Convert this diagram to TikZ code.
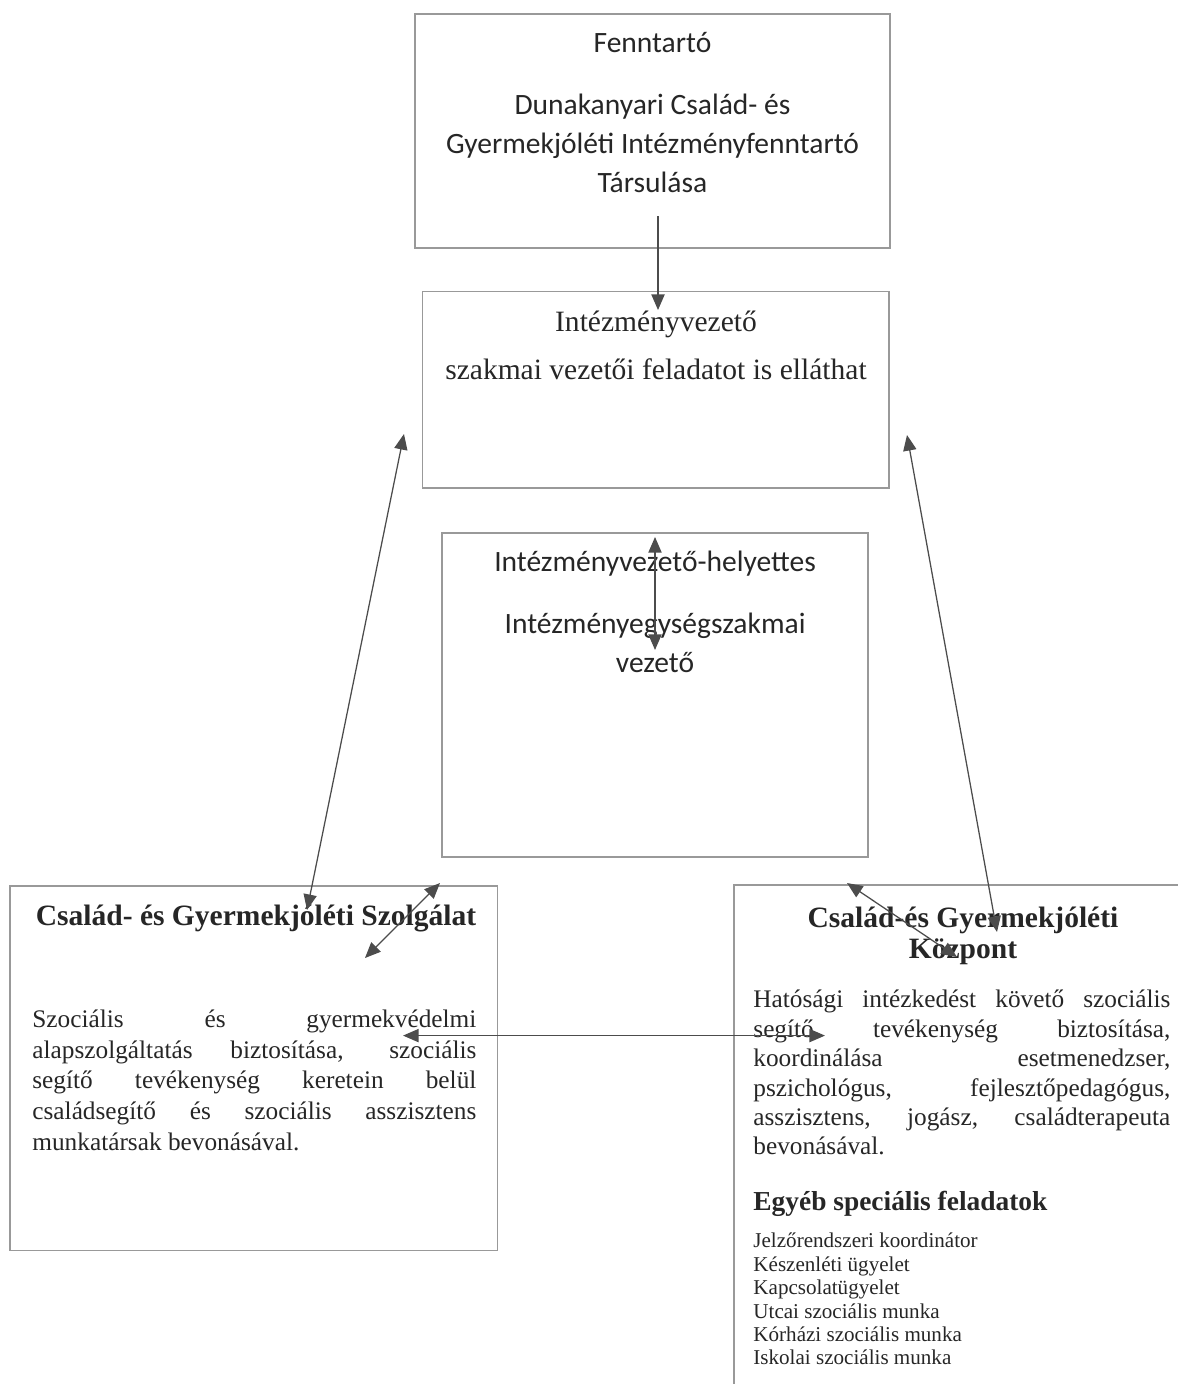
\documentclass[tikz,border=0pt]{standalone}
\usepackage{fontspec}
\setmainfont{Liberation Serif}
\newfontfamily\calibri{Carlito}
\usetikzlibrary{arrows.meta}

\tikzstyle{box}=[draw=black!40,line width=0.5pt,inner sep=0pt]
\tikzstyle{calibriText}=[font={\calibri\fontsize{14pt}{18.3pt}\selectfont},text=black!85,inner sep=0pt,align=center]
\tikzstyle{timesText}=[font={\fontsize{14pt}{17pt}\selectfont},text=black!85,inner sep=0pt,align=center]
\tikzstyle{titleText}=[font={\bfseries\fontsize{14pt}{14.7pt}\selectfont},text=black!85,inner sep=0pt,align=center]
\tikzstyle{bodyText}=[font={\fontsize{12pt}{14.4pt}\selectfont},text=black!85,inner sep=0pt,align=left]
\tikzstyle{listText}=[font={\fontsize{10pt}{11.1pt}\selectfont},text=black!85,inner sep=0pt,align=left]
\tikzstyle{link}=[draw=black!70,line width=0.6pt,-{Triangle[length=0.26cm,width=0.22cm]}]
\tikzstyle{biLink}=[link,{Triangle[length=0.26cm,width=0.22cm]}-{Triangle[length=0.26cm,width=0.22cm]}]

\newcommand{\jline}[2]{\makebox[#1][s]{#2}}

\begin{document}
\begin{tikzpicture}
   \useasboundingbox (0,0) rectangle (19.633,-23.067);

   % Boxes

   \node[box,minimum width=7.917cm,minimum height=3.9cm] (fenntarto) at (10.875,-2.183) {};
   \node[box,minimum width=7.767cm,minimum height=3.283cm] (vezeto) at (10.933,-6.492) {};
   \node[box,minimum width=7.1cm,minimum height=5.4cm] (helyettes) at (10.917,-11.583) {};
   \node[box,minimum width=8.133cm,minimum height=6.083cm] (szolgalat) at (4.233,-17.808) {};
   \node[box,minimum width=7.767cm,minimum height=8.65cm] (kozpont) at (16.117,-19.075) {};

   % Fenntarto

   \node[calibriText,anchor=base] (fenntartoCim) at (10.875,-0.883) {Fenntartó};
   \node[calibriText,anchor=base] (fenntartoNev) at (10.875,-3.2)
      {Dunakanyari Család- és\\Gyermekjóléti Intézményfenntartó\\Társulása};

   % Intezmenyvezeto

   \node[timesText,anchor=base] (vezetoCim) at (10.933,-5.53) {Intézményvezető};
   \node[timesText,anchor=base] (vezetoFeladat) at (10.933,-6.33) {szakmai vezetői feladatot is elláthat};

   % Helyettes

   \node[calibriText,anchor=base] (helyettesCim) at (10.917,-9.533) {Intézményvezető-helyettes};
   \node[calibriText,anchor=base] (helyettesNev) at (10.917,-11.2) {Intézményegységszakmai\\vezető};

   % Szolgalat

   \node[titleText,anchor=base] (szolgalatCim) at (4.267,-15.417) {Család- és Gyermekjóléti Szolgálat};
   \node[bodyText,anchor=base west,font={\fontsize{12pt}{14.5pt}\selectfont}] (szolgalatSzoveg) at (0.533,-19.167)
      {\jline{7.4cm}{Szociális és gyermekvédelmi}\\
       \jline{7.4cm}{alapszolgáltatás biztosítása, szociális}\\
       \jline{7.4cm}{segítő tevékenység keretein belül}\\
       \jline{7.4cm}{családsegítő és szociális asszisztens}\\
       munkatársak bevonásával.};

   % Kozpont

   \node[titleText,anchor=base] (kozpontCim) at (16.05,-15.967) {Család-és Gyermekjóléti\\Központ};
   \node[bodyText,anchor=base west,font={\fontsize{12pt}{13.95pt}\selectfont}] (kozpontSzoveg) at (12.55,-19.25)
      {\jline{6.95cm}{Hatósági intézkedést követő szociális}\\
       \jline{6.95cm}{segítő tevékenység biztosítása,}\\
       \jline{6.95cm}{koordinálása esetmenedzser,}\\
       \jline{6.95cm}{pszichológus, fejlesztőpedagógus,}\\
       \jline{6.95cm}{asszisztens, jogász, családterapeuta}\\
       bevonásával.};
   \node[bodyText,anchor=base west,font={\bfseries\fontsize{13pt}{15pt}\selectfont}] (egyebCim) at (12.55,-20.183)
      {Egyéb speciális feladatok};
   \node[listText,anchor=base west] (egyebLista) at (12.55,-22.75)
      {Jelzőrendszeri koordinátor\\Készenléti ügyelet\\Kapcsolatügyelet\\Utcai szociális munka\\Kórházi szociális munka\\Iskolai szociális munka};

   % Arrows

   \coordinate (fenntartoLe) at (10.967,-3.6);
   \coordinate (vezetoFel) at (10.967,-5.167);
   \draw[link] (fenntartoLe) -- (vezetoFel);

   \coordinate (helyettesFel) at (10.917,-8.95);
   \coordinate (helyettesLe) at (10.917,-10.833);
   \draw[biLink] (helyettesFel) -- (helyettesLe);

   \coordinate (vezetoBal) at (6.733,-7.233);
   \coordinate (szolgalatFel) at (5.117,-15.167);
   \draw[biLink] (vezetoBal) -- (szolgalatFel);

   \coordinate (vezetoJobb) at (15.117,-7.25);
   \coordinate (kozpontFel) at (16.617,-15.533);
   \draw[biLink] (vezetoJobb) -- (kozpontFel);

   \coordinate (helyettesBal) at (7.333,-14.717);
   \coordinate (szolgalatJobb) at (6.083,-15.967);
   \draw[biLink] (helyettesBal) -- (szolgalatJobb);

   \coordinate (helyettesJobb) at (14.117,-14.717);
   \coordinate (kozpontBal) at (15.95,-15.95);
   \draw[biLink] (helyettesJobb) -- (kozpontBal);

   \coordinate (szolgalatKozep) at (6.717,-17.26);
   \coordinate (kozpontKozep) at (13.75,-17.26);
   \draw[biLink] (szolgalatKozep) -- (kozpontKozep);

\end{tikzpicture}
\end{document}
